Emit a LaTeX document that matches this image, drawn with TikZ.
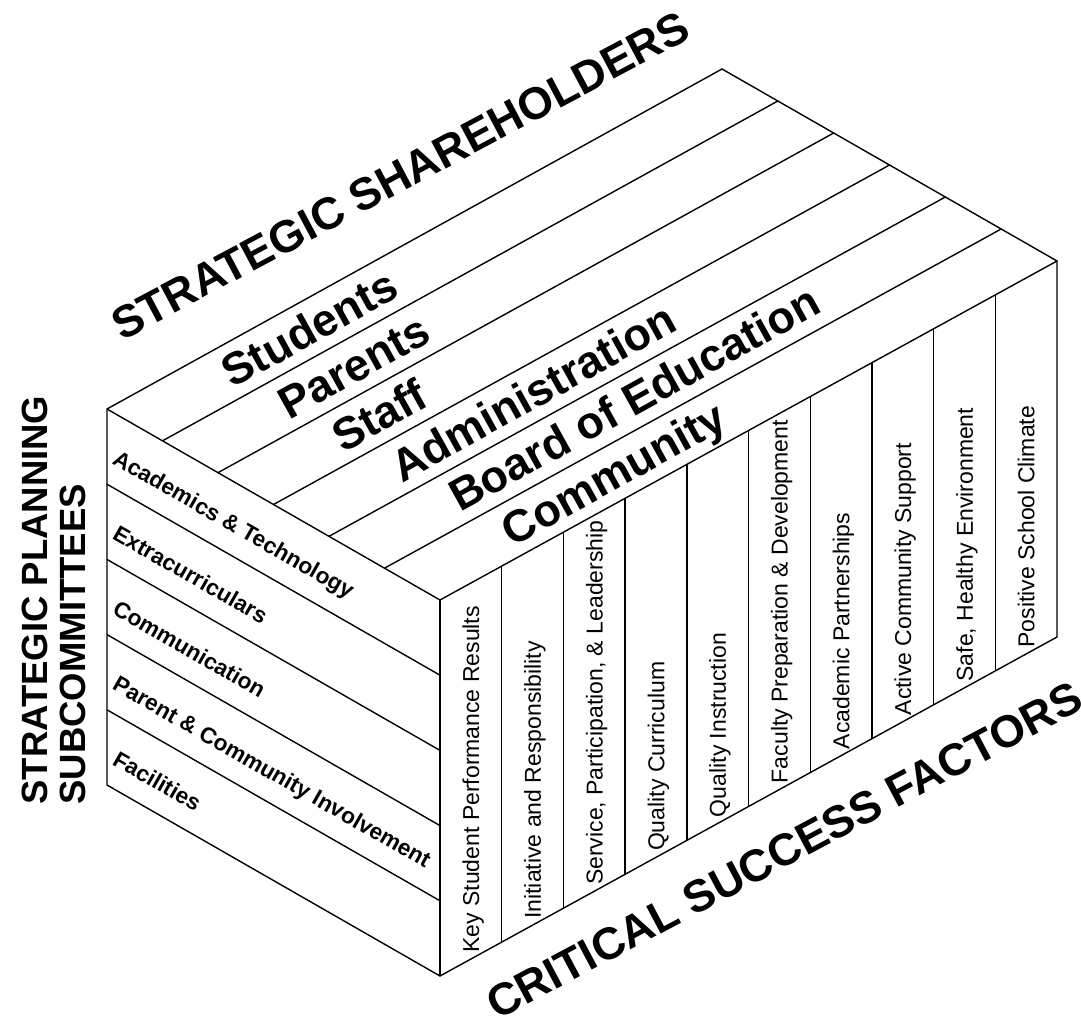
\documentclass[tikz,border=0pt]{standalone}
\usepackage{fontspec}
\setmainfont{Liberation Sans}
\usetikzlibrary{calc}

\tikzset{
  edge/.style={line width=0.7pt},
  heading/.style={font=\fontsize{22.5}{23}\selectfont\bfseries, inner sep=0pt,
    text height=16.2pt, text depth=0pt},
  shareholder/.style={heading, rotate=29},
  sidehead/.style={font=\fontsize{18.25}{18}\selectfont\bfseries, rotate=90,
    anchor=base west, inner sep=0pt},
  committee/.style={font=\fontsize{11.3}{12}\selectfont\bfseries, rotate=-29.8,
    anchor=base west, inner sep=0pt},
  factor/.style={font=\fontsize{11.5}{12}\selectfont, rotate=90, anchor=west,
    inner sep=0pt, text height=8.3pt, text depth=0pt}
}

\begin{document}
\begin{tikzpicture}[x=0.5pt,y=-0.5pt]
\useasboundingbox (0,0) rectangle (1081,1022);

% corners of the box
\coordinate (left) at (107,409);
\coordinate (back) at (722,69);
\coordinate (right) at (1057,261);
\coordinate (front) at (440,600);
\coordinate (left bottom) at (107,785);
\coordinate (front bottom) at (440,976);
\coordinate (right bottom) at (1057,637);

% outline
\draw[edge] (left) -- (back) -- (right) -- (right bottom) -- (front bottom)
  -- (left bottom) -- cycle;
\draw[edge] (left) -- (front) -- (right);
\draw[edge] (front) -- (front bottom);

% top stripes, left rows, right columns
\foreach \i in {1,...,5}
  \draw[edge] ($(left)!{\i/6}!(front)$) -- ($(back)!{\i/6}!(right)$);
\foreach \r in {1,...,4}
  \draw[edge] ($(left)!{\r/5}!(left bottom)$) -- ($(front)!{\r/5}!(front bottom)$);
\foreach \k in {1,...,9}
  \draw[edge] ($(front)!{\k/10}!(right)$) -- ($(front bottom)!{\k/10}!(right bottom)$);

% headings
\node[heading, rotate=28] (shareholders) at (400,175) {STRATEGIC SHAREHOLDERS};
\node[heading, rotate=28] (factors) at (784,850) {CRITICAL SUCCESS FACTORS};
\node[sidehead] (planning) at (47,805) {STRATEGIC PLANNING};
\node[sidehead] (subcommittees) at (85,805) {SUBCOMMITTEES};

% top face
\node[shareholder] (students) at (309,328) {Students};
\node[shareholder] (parents) at (353.5,366) {Parents};
\node[shareholder] (staff) at (379,415) {Staff};
\node[shareholder] (administration) at (533,392) {Administration};
\node[shareholder] (board) at (634,398) {Board of Education};
\node[shareholder] (community) at (613,473) {Community};

% left face
\foreach \name [count=\r from 0] in {Academics \& Technology, Extracurriculars,
    Communication, Parent \& Community Involvement, Facilities}
  \node[committee] (committee\r) at (111,{463+75.2*\r}) {\name};

% right face
\foreach \name [count=\k from 0] in {Key Student Performance Results,
    Initiative and Responsibility, {Service, Participation, \& Leadership},
    Quality Curriculum, Quality Instruction,
    Faculty Preparation \& Development, Academic Partnerships,
    Active Community Support, {Safe, Healthy Environment},
    Positive School Climate}
  \node[factor] (factor\k) at ({470.85+61.7*\k},{953-33.9*\k}) {\name};
\end{tikzpicture}
\end{document}
